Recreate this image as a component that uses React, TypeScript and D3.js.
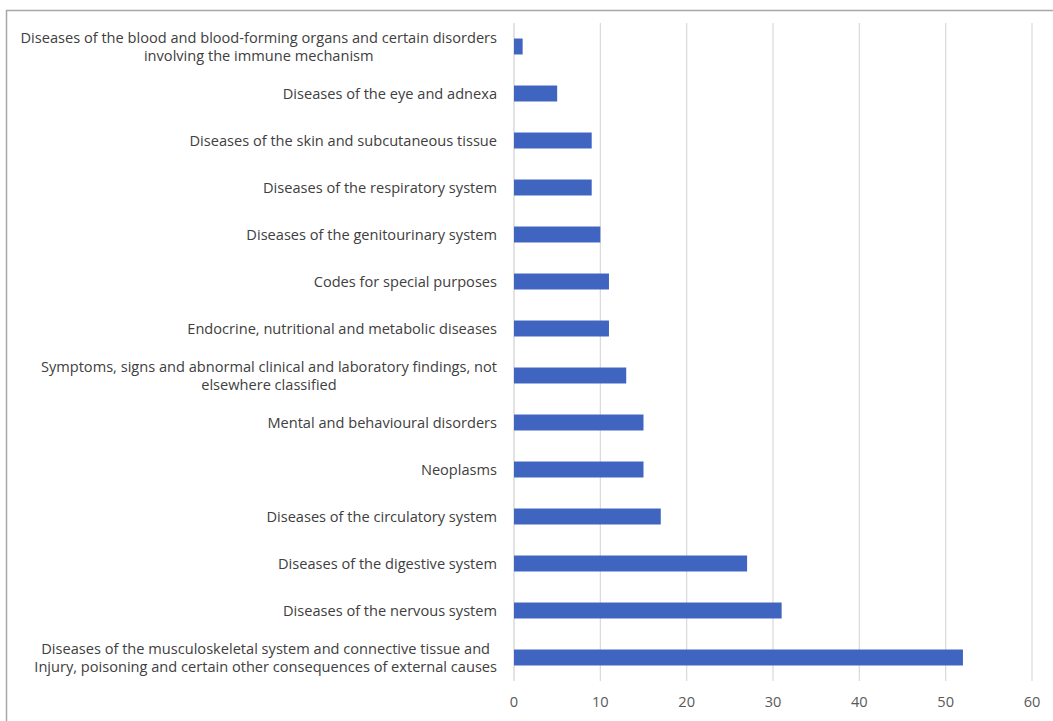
import React from "react";
import * as d3 from "d3";

const categories: string[][] = [
  ["Diseases of the blood and blood-forming organs and certain disorders", "involving the immune mechanism"],
  ["Diseases of the eye and adnexa"],
  ["Diseases of the skin and subcutaneous tissue"],
  ["Diseases of the respiratory system"],
  ["Diseases of the genitourinary system"],
  ["Codes for special purposes"],
  ["Endocrine, nutritional and metabolic diseases"],
  ["Symptoms, signs and abnormal clinical and laboratory findings, not", "elsewhere classified"],
  ["Mental and behavioural disorders"],
  ["Neoplasms"],
  ["Diseases of the circulatory system"],
  ["Diseases of the digestive system"],
  ["Diseases of the nervous system"],
  ["Diseases of the musculoskeletal system and connective tissue and", "Injury, poisoning and certain other consequences of external causes"],
];
const values: number[] = [1, 5, 9, 9, 10, 11, 11, 13, 15, 15, 17, 27, 31, 52];
const xTicks: number[] = [0, 10, 20, 30, 40, 50, 60];

const FONT_FAMILY = "'Open Sans', sans-serif";
const FONT_SIZE = 14.6;

function measure(text: string): number {
  if (typeof document === "undefined") return text.length * 7;
  const c = document.createElement("canvas");
  const ctx = c.getContext("2d");
  if (!ctx) return text.length * 7;
  ctx.font = `${FONT_SIZE}px 'Open Sans'`;
  return ctx.measureText(text).width;
}

export default function App() {
  const W = 1053, H = 721;
  const left = 514, right = 1032, top = 23, bottom = 681;
  const labelRight = 497;
  const x = d3.scaleLinear().domain([0, 60]).range([left, right]);
  const ids = categories.map((_, i) => String(i));
  const y = d3.scaleBand().domain(ids).range([top, bottom]).paddingInner(0.66).paddingOuter(0.33);
  return (
    <svg width={W} height={H} style={{ position: "absolute", left: 0, top: 0, background: "#fff" }}>
      <rect x={0} y={0} width={W} height={H} fill="#fff" />
      <line x1={6} y1={10.5} x2={W} y2={10.5} stroke="#a6a6a6" strokeWidth={1.5} />
      <line x1={6.5} y1={10} x2={6.5} y2={H} stroke="#a6a6a6" strokeWidth={1.5} />
      {xTicks.slice(1).map((t) => (
        <line key={t} x1={x(t)} x2={x(t)} y1={top} y2={bottom} stroke="#d9d9d9" strokeWidth={1.2} />
      ))}
      <line x1={x(0)} x2={x(0)} y1={top} y2={bottom} stroke="#d0d0d0" strokeWidth={1.2} />
      {values.map((v, i) => (
        <rect key={i} x={x(0)} y={y(String(i))!} width={x(v) - x(0)} height={y.bandwidth()} fill="#3f65c0" />
      ))}
      {categories.map((lines, i) => {
        const cy = y(String(i))! + y.bandwidth() / 2;
        const lh = 18;
        const start = cy - ((lines.length - 1) * lh) / 2;
        const multi = lines.length > 1;
        const maxW = multi ? Math.max(...lines.map(measure)) : 0;
        const cx = multi ? labelRight - maxW / 2 : labelRight;
        return (
          <text key={i} fontFamily={FONT_FAMILY} fontSize={FONT_SIZE} fill="#404040" textAnchor={multi ? "middle" : "end"}>
            {lines.map((l, j) => (
              <tspan key={j} x={cx} y={start + j * lh} dy="0.35em">
                {l}
              </tspan>
            ))}
          </text>
        );
      })}
      {xTicks.map((t) => (
        <text key={t} x={x(t)} y={702} dy="0.35em" textAnchor="middle" fontFamily={FONT_FAMILY} fontSize={FONT_SIZE} fill="#595959">
          {t}
        </text>
      ))}
    </svg>
  );
}
